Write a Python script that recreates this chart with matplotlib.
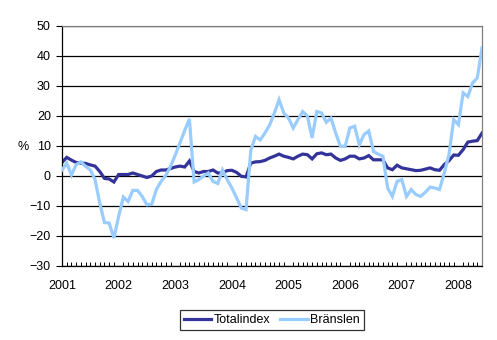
import matplotlib
matplotlib.use("Agg")
import matplotlib.pyplot as plt
import numpy as np

years = ["2001", "2002", "2003", "2004", "2005", "2006", "2007", "2008"]

totalindex = [
    4.5, 6.2, 5.3, 4.5, 4.3, 4.2, 3.7, 3.3, 1.5, -0.8, -1.0, -2.0,
    0.5, 0.5, 0.5, 1.0, 0.5, 0.0, -0.5, 0.0, 1.5, 2.0, 2.0, 2.5,
    3.0, 3.3, 3.0, 5.0, 1.5, 1.0, 1.5, 1.5, 2.0, 1.0, 1.0, 1.8,
    1.9, 1.2, -0.1, -0.3, 4.3, 4.7, 4.8, 5.2, 6.0, 6.6, 7.3, 6.6,
    6.2, 5.7, 6.6, 7.3, 7.1, 5.7, 7.4, 7.7, 7.1, 7.3, 6.0, 5.2,
    5.7, 6.6, 6.6, 5.7, 6.0, 6.8, 5.4, 5.4, 5.4, 2.7, 2.1, 3.6,
    2.7, 2.4, 2.1, 1.8, 1.9, 2.3, 2.7, 2.1, 1.9, 3.8, 5.1, 7.0,
    6.9, 8.8, 11.3, 11.6, 11.8, 14.3,
]

branslen = [
    2.0, 4.3, 0.3, 3.8, 4.7, 3.2, 2.0, -1.2, -9.0, -15.5, -15.7, -20.7,
    -13.5, -7.0, -8.5, -4.8, -4.8, -6.8, -9.6, -9.5, -4.5, -1.8, 0.2, 3.2,
    7.0, 11.0, 15.2, 19.0, -2.0, -1.2, 0.0, 1.0, -1.8, -2.5, 2.0, -1.2,
    -4.0, -7.3, -10.7, -11.2, 8.5, 13.2, 12.0, 14.3, 17.0, 21.0, 25.4, 21.0,
    19.3, 16.0, 18.8, 21.5, 20.0, 12.7, 21.5, 21.0, 17.9, 19.3, 14.3, 9.9,
    9.9, 16.0, 16.6, 10.4, 13.8, 15.0, 8.2, 7.3, 6.6, -4.0, -6.8, -1.8,
    -1.2, -6.8, -4.5, -6.2, -6.8, -5.4, -3.7, -4.0, -4.5, 1.0, 7.1, 18.8,
    17.1, 27.7, 26.5, 31.0, 32.7, 42.7,
]

series_names = ["Totalindex", "Bränslen"]
colors = ["#333399", "#99CCFF"]

plt.rcParams["font.family"] = ["Liberation Sans", "DejaVu Sans"]
FS = 9

fig = plt.figure(figsize=(4.97, 3.40), dpi=100)
ax = fig.add_axes([62 / 497, 1 - 266 / 340, 420 / 497, 240 / 340])

x = np.arange(len(totalindex))
ax.plot(x, totalindex, color=colors[0], lw=2.3, label=series_names[0],
        solid_joinstyle="miter", zorder=2)
ax.plot(x, branslen, color=colors[1], lw=2.3, label=series_names[1],
        solid_joinstyle="miter", zorder=3)

ax.set_xlim(0, len(totalindex) - 1)
ax.set_ylim(-30, 50)
ax.set_yticks(np.arange(-30, 51, 10))
ax.yaxis.grid(True, color="black", lw=0.9)
ax.set_axisbelow(True)

ax.set_xticks(np.arange(0, len(totalindex), 12))
ax.set_xticklabels(years)
ax.set_xticks(np.arange(0, len(totalindex)), minor=True)
ax.tick_params(axis="x", which="major", length=0, pad=10, labelsize=FS)
ax.tick_params(axis="x", which="minor", direction="in", length=3, width=0.7)
ax.tick_params(axis="y", direction="out", length=4, width=0.8, pad=4, labelsize=FS)

for side in ["top", "right"]:
    ax.spines[side].set_color("#808080")
    ax.spines[side].set_linewidth(0.9)
for side in ["left", "bottom"]:
    ax.spines[side].set_color("black")
    ax.spines[side].set_linewidth(0.9)

fig.text(23 / 497, 1 - 147 / 340, "%", fontsize=FS, ha="center", va="center")

leg = fig.legend(loc="center", bbox_to_anchor=(272 / 497, 1 - 320 / 340),
                 ncol=2, fontsize=FS, frameon=True, fancybox=False,
                 edgecolor="black", handlelength=2.2, handletextpad=0.2,
                 columnspacing=0.8, borderpad=0.3, borderaxespad=0)
leg.get_frame().set_linewidth(0.9)

fig.savefig("out.png", dpi=100)
